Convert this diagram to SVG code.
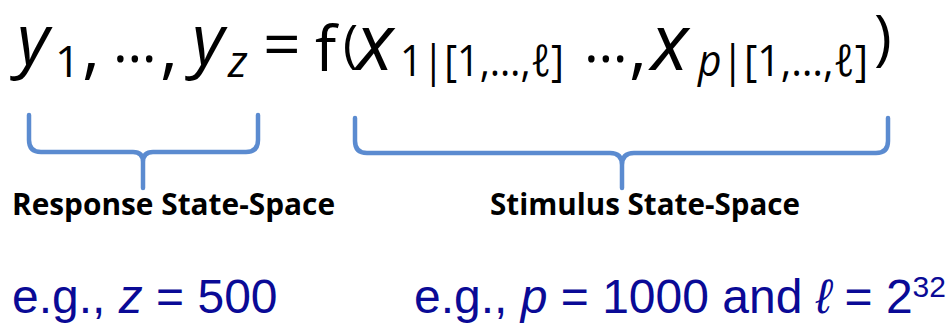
<svg xmlns="http://www.w3.org/2000/svg" width="951" height="324" viewBox="0 0 951 324">
<style>
.m{font-family:"Open Sans","Noto Sans",sans-serif;fill:#000}
.i{font-style:italic}
.s{font-size:44px}
.lab{font-family:"Open Sans","Noto Sans",sans-serif;font-weight:bold;font-size:31px;fill:#000}
.eg{font-family:"Liberation Sans",Arial,sans-serif;font-size:48px;fill:#0a0a96}
.br{fill:none;stroke:#5b8bd0;stroke-width:4.5;stroke-linecap:round;stroke-linejoin:round}
</style>
<rect width="951" height="324" fill="#fff"/>
<g id="formula">
<text class="m i" x="17" y="64" font-size="70">y</text>
<text class="m s" x="55" y="77">1</text>
<text class="m" x="82" y="71" font-size="70">,</text>
<text class="m" x="113" y="62" font-size="56">…</text>
<text class="m" x="160" y="71" font-size="70">,</text>
<text class="m i" x="192" y="64" font-size="70">y</text>
<text class="m s i" x="228" y="77">z</text>
<text class="m" x="263" y="67" font-size="66">=</text>
<text class="m" x="315" y="71" font-size="63">f</text>
<text class="m" x="343" y="62" font-size="51">(</text>
<text class="m i" x="356" y="70" font-size="78">x</text>
<text class="m s" x="400" y="76" textLength="164" lengthAdjust="spacingAndGlyphs">1|[1,…,<tspan class="i">ℓ</tspan>]</text>
<text class="m" x="584" y="62" font-size="56">…</text>
<text class="m" x="629" y="71" font-size="70">,</text>
<text class="m i" x="651" y="70" font-size="78">x</text>
<text class="m s" x="698" y="76" textLength="170" lengthAdjust="spacingAndGlyphs"><tspan class="i">p</tspan>|[1,…,<tspan class="i">ℓ</tspan>]</text>
<text class="m" x="874" y="58" font-size="60">)</text>
</g>
<g id="connectors">
<path class="br" d="M29,115 V140 Q29,152 41,152 H133 Q143,152 143,162 V188 M143,162 Q143,152 153,152 H246 Q258,152 258,140 V115"/>
<path class="br" d="M355,118 V141 Q355,153 367,153 H610 Q622,153 622,165 V188 M622,165 Q622,153 634,153 H876 Q888,153 888,141 V118"/>
</g>
<g id="response">
<text class="lab" x="12" y="215" textLength="323" lengthAdjust="spacingAndGlyphs">Response State-Space</text>
</g>
<g id="stimulus">
<text class="lab" x="490" y="215" textLength="310" lengthAdjust="spacingAndGlyphs">Stimulus State-Space</text>
</g>
<g id="examples">
<text class="eg" x="12" y="313">e.g., <tspan font-style="italic">z</tspan> = 500</text>
<text class="eg" x="414" y="313">e.g., <tspan font-style="italic">p</tspan> = 1000 and <tspan font-style="italic">ℓ</tspan> = 2<tspan font-size="30" dy="-16">32</tspan></text>
</g>
</svg>
